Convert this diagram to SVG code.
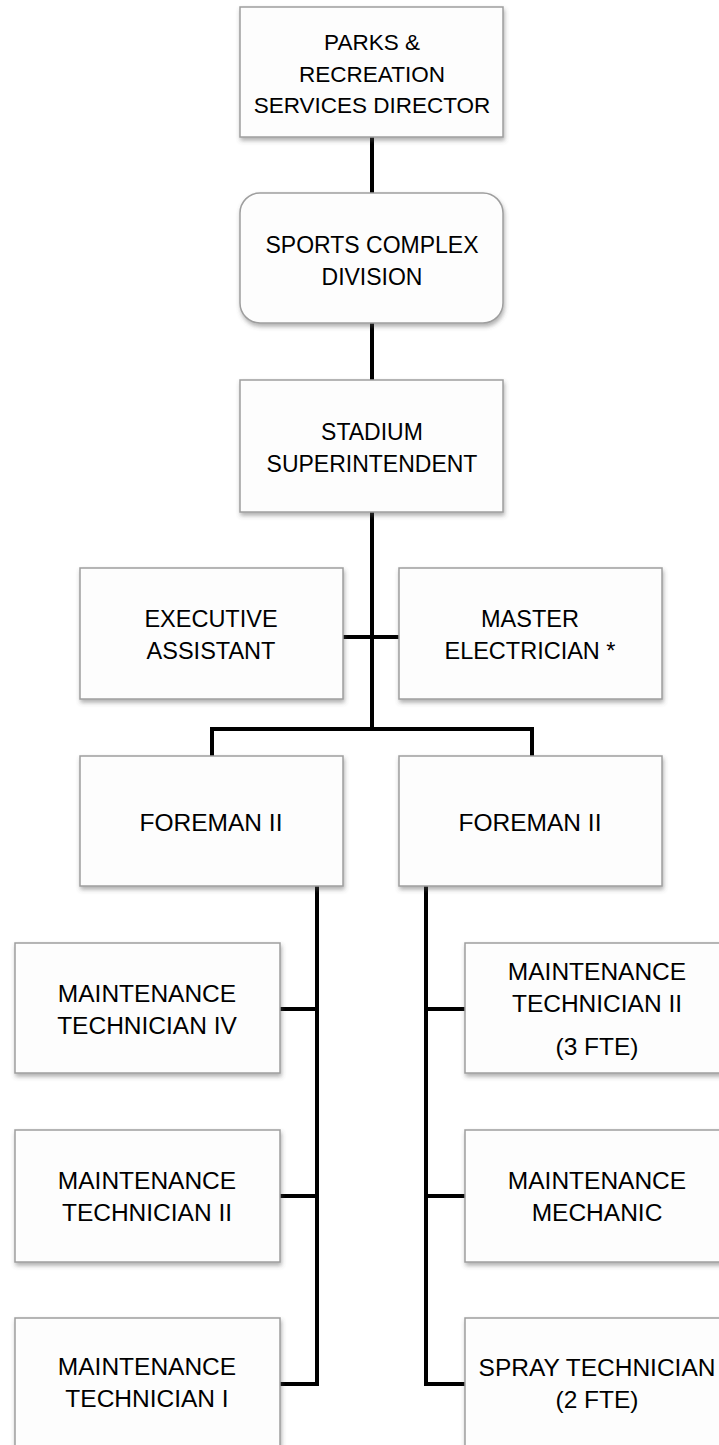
<svg xmlns="http://www.w3.org/2000/svg" width="719" height="1445" viewBox="0 0 719 1445">
  <style>
    .box { fill: #fdfdfd; stroke: #9e9e9e; stroke-width: 1.5; filter: url(#shadow); }
    .lbl { font-family: "Liberation Sans", Arial, sans-serif; fill: #000; text-anchor: middle; }
    .top { font-size: 23px; }
    .head { font-size: 22.5px; }
    .mid { font-size: 23.5px; }
    .low { font-size: 24.5px; }
    .wire { fill: none; stroke: #000; stroke-width: 4; stroke-linejoin: miter; }
  </style>
  <defs>
    <filter id="shadow" x="-10%" y="-10%" width="125%" height="130%">
      <feDropShadow dx="1" dy="3" stdDeviation="2" flood-color="#555" flood-opacity="0.45"/>
    </filter>
  </defs>
  <rect width="719" height="1445" fill="#fff"/>

  <!-- reporting lines -->
  <g id="connectors">
    <path class="wire" d="M372 137 V193"/>
    <path class="wire" d="M372 323 V380"/>
    <path class="wire" d="M372 512 V729"/>
    <path class="wire" d="M343 637 H399"/>
    <path class="wire" d="M212 756 V729 H532 V756"/>
    <path class="wire" d="M317 886 V1384 H280"/>
    <path class="wire" d="M317 1009 H280"/>
    <path class="wire" d="M317 1196 H280"/>
    <path class="wire" d="M426 886 V1384 H465"/>
    <path class="wire" d="M426 1009 H465"/>
    <path class="wire" d="M426 1196 H465"/>
  </g>

  <g id="director">
    <rect class="box" x="240" y="7" width="263" height="130"/>
    <text class="lbl head" x="372" y="50">PARKS &amp;</text>
    <text class="lbl head" x="372" y="82">RECREATION</text>
    <text class="lbl head" x="372" y="113">SERVICES DIRECTOR</text>
  </g>

  <g id="division">
    <rect class="box" x="240" y="193" width="263" height="130" rx="20" ry="20"/>
    <text class="lbl top" x="372" y="253">SPORTS COMPLEX</text>
    <text class="lbl top" x="372" y="285">DIVISION</text>
  </g>

  <g id="superintendent">
    <rect class="box" x="240" y="380" width="263" height="132"/>
    <text class="lbl top" x="372" y="440">STADIUM</text>
    <text class="lbl top" x="372" y="472">SUPERINTENDENT</text>
  </g>

  <g id="exec-assistant">
    <rect class="box" x="80" y="568" width="263" height="131"/>
    <text class="lbl mid" x="211" y="627">EXECUTIVE</text>
    <text class="lbl mid" x="211" y="659">ASSISTANT</text>
  </g>

  <g id="master-electrician">
    <rect class="box" x="399" y="568" width="263" height="131"/>
    <text class="lbl mid" x="530" y="627">MASTER</text>
    <text class="lbl mid" x="530" y="659">ELECTRICIAN *</text>
  </g>

  <g id="foreman-left">
    <rect class="box" x="80" y="756" width="263" height="130"/>
    <text class="lbl low" x="211" y="831">FOREMAN II</text>
  </g>

  <g id="foreman-right">
    <rect class="box" x="399" y="756" width="263" height="130"/>
    <text class="lbl low" x="530" y="831">FOREMAN II</text>
  </g>

  <g id="tech-iv">
    <rect class="box" x="15" y="943" width="265" height="130"/>
    <text class="lbl low" x="147" y="1002">MAINTENANCE</text>
    <text class="lbl low" x="147" y="1034">TECHNICIAN IV</text>
  </g>

  <g id="tech-ii-left">
    <rect class="box" x="15" y="1130" width="265" height="132"/>
    <text class="lbl low" x="147" y="1189">MAINTENANCE</text>
    <text class="lbl low" x="147" y="1221">TECHNICIAN II</text>
  </g>

  <g id="tech-i">
    <rect class="box" x="15" y="1318" width="265" height="140"/>
    <text class="lbl low" x="147" y="1375">MAINTENANCE</text>
    <text class="lbl low" x="147" y="1407">TECHNICIAN I</text>
  </g>

  <g id="tech-ii-right">
    <rect class="box" x="465" y="943" width="265" height="130"/>
    <text class="lbl low" x="597" y="980">MAINTENANCE</text>
    <text class="lbl low" x="597" y="1012">TECHNICIAN II</text>
    <text class="lbl low" x="597" y="1055">(3 FTE)</text>
  </g>

  <g id="mechanic">
    <rect class="box" x="465" y="1130" width="265" height="132"/>
    <text class="lbl low" x="597" y="1189">MAINTENANCE</text>
    <text class="lbl low" x="597" y="1221">MECHANIC</text>
  </g>

  <g id="spray-tech">
    <rect class="box" x="465" y="1318" width="265" height="140"/>
    <text class="lbl low" x="597" y="1376">SPRAY TECHNICIAN</text>
    <text class="lbl low" x="597" y="1408">(2 FTE)</text>
  </g>
</svg>
